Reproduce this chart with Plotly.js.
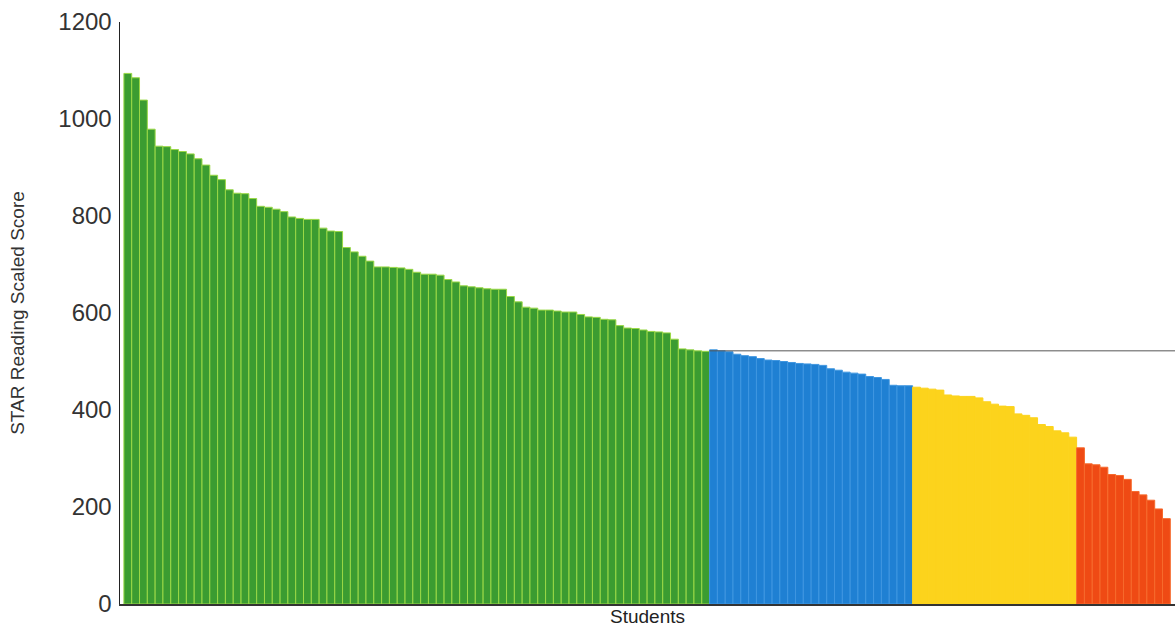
<!DOCTYPE html>
<html>
<head>
<meta charset="utf-8">
<script src="https://cdn.plot.ly/plotly-3.0.1.min.js"></script>
<style>
  html, body { margin: 0; padding: 0; background: #ffffff; }
  #chart { width: 1175px; height: 627px; }
</style>
</head>
<body>
<div id="chart"></div>
<script>
// STAR Reading Scaled Scores, students sorted high to low, grouped by benchmark band
const greenScores = [
  1094, 1085, 1039, 979, 944, 943, 937, 933, 928, 918,
  905, 884, 875, 854, 847, 846, 836, 820, 818, 814,
  809, 798, 795, 793, 793, 775, 769, 768, 735, 726,
  717, 707, 695, 695, 694, 693, 690, 684, 680, 680,
  678, 669, 664, 656, 654, 652, 650, 649, 649, 634,
  623, 612, 610, 606, 606, 604, 602, 602, 597, 592,
  591, 587, 586, 574, 569, 568, 565, 562, 561, 559,
  546, 526, 524, 522, 521
];
const blueScores = [
  524, 522, 520, 515, 512, 510, 506, 503, 502, 500,
  498, 496, 495, 494, 492, 485, 482, 478, 476, 474,
  469, 467, 463, 451, 450, 450
];
const yellowScores = [
  447, 445, 443, 441, 431, 429, 428, 428, 425, 417,
  412, 408, 407, 392, 389, 384, 370, 366, 357, 353,
  344
];
const redScores = [
  322, 289, 287, 282, 267, 265, 257, 232, 225, 214,
  196, 176
];
const benchmarkScore = [522];
const yTickValues = [0, 200, 400, 600, 800, 1000, 1200];
const yTickLabels = ['0', '200', '400', '600', '800', '1000', '1200'];
const yAxisTitle = 'STAR Reading Scaled Score';
const xAxisTitle = 'Students';

const groups = [
  { name: 'Above benchmark', values: greenScores, fill: '#3b9c31', edge: '#9ad846' },
  { name: 'On watch', values: blueScores, fill: '#1f80d3', edge: '#3f96e0' },
  { name: 'Intervention', values: yellowScores, fill: '#fcd31c', edge: '#fcd31c' },
  { name: 'Urgent intervention', values: redScores, fill: '#ef4a14', edge: '#f66a2c' }
];

const traces = [];
let offset = 0;
groups.forEach(g => {
  const xs = g.values.map((_, i) => offset + i);
  traces.push({
    type: 'bar',
    name: g.name,
    x: xs,
    y: g.values,
    marker: { color: g.fill, line: { color: g.edge, width: 1 } },
    hoverinfo: 'y'
  });
  offset += g.values.length;
});
const total = offset;
const xMin = -1;
const xMax = total - 0.5 + 0.6;

const layout = {
  width: 1175,
  height: 627,
  margin: { l: 120, r: 0, t: 22, b: 23, pad: 0 },
  paper_bgcolor: '#ffffff',
  plot_bgcolor: '#ffffff',
  showlegend: false,
  bargap: 0,
  barmode: 'overlay',
  font: { family: '"Liberation Sans", Arial, sans-serif', color: '#222222' },
  xaxis: {
    range: [xMin, xMax],
    showgrid: false,
    zeroline: false,
    showline: true,
    linecolor: '#333333',
    linewidth: 1.5,
    showticklabels: false,
    ticks: '',
    title: { text: xAxisTitle, font: { size: 19, color: '#222222' }, standoff: 6 }
  },
  yaxis: {
    range: [0, 1200],
    showgrid: false,
    zeroline: false,
    showline: true,
    linecolor: '#222222',
    linewidth: 1.5,
    tickvals: yTickValues,
    ticktext: yTickLabels,
    ticks: 'outside',
    ticklen: 2,
    tickcolor: 'rgba(0,0,0,0)',
    tickfont: { size: 24, color: '#333333' },
    title: { text: yAxisTitle, font: { size: 19, color: '#333333' }, standoff: 28 }
  },
  shapes: [{
    type: 'line',
    xref: 'x', yref: 'y',
    x0: greenScores.length - 0.5,
    x1: xMax,
    y0: benchmarkScore[0],
    y1: benchmarkScore[0],
    line: { color: '#555555', width: 1 },
    layer: 'above'
  }]
};

Plotly.newPlot('chart', traces, layout, { displayModeBar: false, staticPlot: true });
</script>
</body>
</html>
